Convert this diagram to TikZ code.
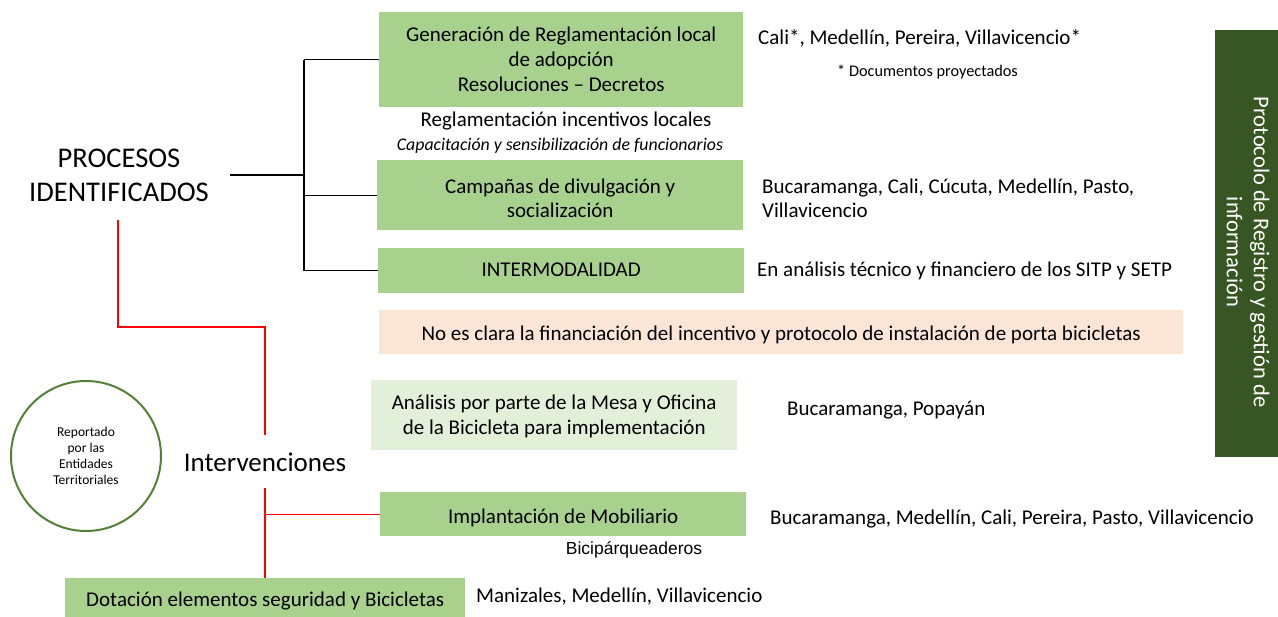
\documentclass[tikz,border=0pt]{standalone}
\usepackage{fontspec}
\setmainfont{Carlito}
\newfontfamily\arialf{Liberation Sans}
\definecolor{boxgreen}{HTML}{A9D18E}
\definecolor{boxpink}{HTML}{FBE5D6}
\definecolor{boxlight}{HTML}{E2F0D9}
\definecolor{darkgreen}{HTML}{375623}
\definecolor{circgreen}{HTML}{548235}
\newcommand\dnbox[2]{\raisebox{0pt}[\dimexpr\height+#1\relax][\depth]{\begin{tabular}{@{}c@{}}#2\end{tabular}}}
\begin{document}
\begin{tikzpicture}[x=1pt,y=-1pt,
  box/.style={anchor=north west, inner sep=0pt, align=center, font=\fontsize{21}{25}\selectfont},
  lbl/.style={anchor=west, inner sep=0pt, align=left, font=\fontsize{21}{24}\selectfont},
  blk/.style={line width=1.2pt, black},
  redl/.style={line width=1.2pt, red}]
\useasboundingbox (0,0) rectangle (1278,617);
% boxes
\node[box, fill=boxgreen, minimum width=364, minimum height=95] (b1) at (379,12)
  {\dnbox{3pt}{Generación de Reglamentación local\\de adopción\\Resoluciones -- Decretos}};
\node[box, fill=boxgreen, minimum width=366, minimum height=70] (b2) at (377,160)
  {\dnbox{10pt}{Campañas de divulgación y\\[-1pt]socialización}};
\node[box, fill=boxgreen, minimum width=366, minimum height=45] (b3) at (378,248)
  {\dnbox{2pt}{INTERMODALIDAD}};
\node[box, fill=boxpink, minimum width=804, minimum height=44] (pk) at (379,310)
  {\dnbox{6pt}{No es clara la financiación del incentivo y protocolo de instalación de porta bicicletas}};
\node[box, fill=boxlight, minimum width=366, minimum height=70] (an) at (371,380)
  {\dnbox{4pt}{Análisis por parte de la Mesa y Oficina\\de la Bicicleta para implementación}};
\node[box, fill=boxgreen, minimum width=366, minimum height=44] (im) at (380,492)
  {\dnbox{8pt}{Implantación de Mobiliario}};
\node[box, fill=boxgreen, minimum width=400, minimum height=39] (dot) at (65,578)
  {\dnbox{8pt}{Dotación elementos seguridad y Bicicletas}};
% side bar
\node[anchor=north west, fill=darkgreen, minimum width=63, minimum height=427, inner sep=0pt] (bar) at (1215,30) {};
\node[rotate=-90, text=white, align=center, font=\fontsize{22.5}{27}\selectfont, inner sep=0pt] (bart) at (1248,252)
  {Protocolo de Registro y gestión de\\información};
% titles
\node[align=center, font=\fontsize{28.5}{34}\selectfont, inner sep=0pt] (proc) at (119,175) {PROCESOS\\IDENTIFICADOS};
\node[font=\fontsize{27}{30}\selectfont, inner sep=0pt] (interv) at (265,462) {Intervenciones};
% circle
\node[circle, draw=circgreen, line width=2pt, minimum size=150, inner sep=0pt, align=center,
  font=\fontsize{13.5}{16}\selectfont] (circ) at (86,456) {Reportado\\por las\\Entidades\\Territoriales};
% sub labels
\node[font=\fontsize{21}{24}\selectfont, inner sep=0pt] (regl) at (566,121) {Reglamentación incentivos locales};
\node[font=\fontsize{17.8}{20}\selectfont\itshape, inner sep=0pt] (capa) at (560,146) {Capacitación y sensibilización de funcionarios};
\node[font=\fontsize{17.5}{20}\selectfont\arialf, inner sep=0pt] (bicip) at (634,550) {Bicipárqueaderos};
% right texts
\node[lbl] (t1) at (758,38) {Cali*, Medellín, Pereira, Villavicencio*};
\node[lbl, font=\fontsize{16.3}{18}\selectfont] (t1b) at (837,72) {* Documentos proyectados};
\node[lbl] (t2) at (762,198) {Bucaramanga, Cali, Cúcuta, Medellín, Pasto,\\Villavicencio};
\node[lbl] (t3) at (757,271) {En análisis técnico y financiero de los SITP y SETP};
\node[lbl] (t4) at (787,410) {Bucaramanga, Popayán};
\node[lbl] (t5) at (770,519) {Bucaramanga, Medellín, Cali, Pereira, Pasto, Villavicencio};
\node[lbl] (t6) at (476,597) {Manizales, Medellín, Villavicencio};
% black connectors
\coordinate (ps) at (230,175);
\coordinate (j) at (304,175);
\draw[blk] (ps) -- (j);
\draw[blk] (j |- b1.west) -- (j |- b3.west);
\draw[blk] (j |- b1.west) -- (b1.west);
\draw[blk] (j |- b2.west) -- (b2.west);
\draw[blk] (j |- b3.west) -- (b3.west);
% red connectors
\coordinate (r0) at (118,220);
\coordinate (r1) at (265,435);
\coordinate (r2) at (265,488);
\draw[redl] (r0) |- (265,327) -- (r1);
\draw[redl] (r2) -- (dot.north -| r2);
\draw[redl] (r2 |- im.west) -- (im.west);
\end{tikzpicture}
\end{document}
